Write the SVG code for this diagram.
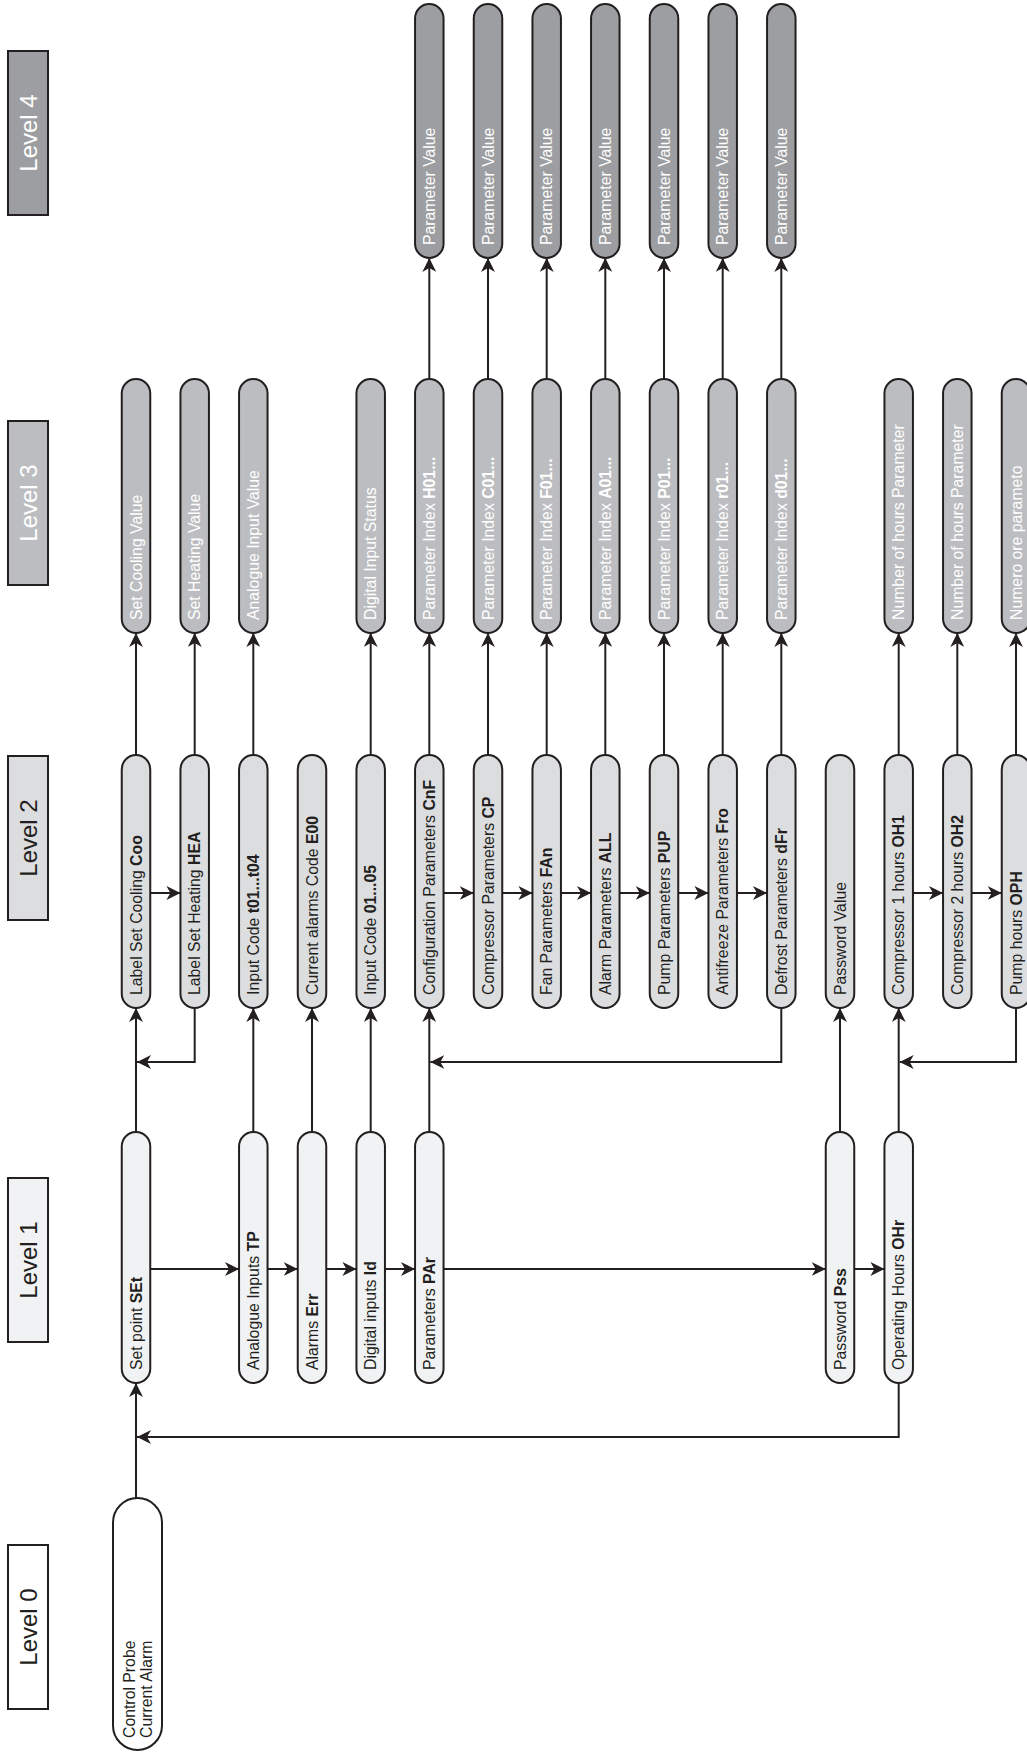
<svg xmlns="http://www.w3.org/2000/svg" width="1027" height="1753" viewBox="0 0 1027 1753">
<defs>
<marker id="ah" viewBox="0 0 14 14" refX="14" refY="7" markerWidth="14" markerHeight="14" orient="auto" markerUnits="userSpaceOnUse">
<path d="M0,0 L14,7 L0,14 L4,7 z" fill="#231f20"/>
</marker>
<style>
.p1{fill:#f1f2f3;stroke:#231f20;stroke-width:2}
.p2{fill:#dcdddf;stroke:#231f20;stroke-width:2}
.p3{fill:#bcbdc0;stroke:#231f20;stroke-width:2}
.p4{fill:#9d9ea1;stroke:#231f20;stroke-width:2}
.t{font-family:"Liberation Sans",Arial,sans-serif;font-size:15.8px;fill:#231f20}
.tw{font-family:"Liberation Sans",Arial,sans-serif;font-size:15.8px;fill:#ffffff}
.b{font-weight:bold}
.lv{font-family:"Liberation Sans",Arial,sans-serif;font-size:24px;text-anchor:middle}
.c{fill:none;stroke:#231f20;stroke-width:2}
.a{marker-end:url(#ah)}
</style>
</defs>

<g id="levels">
<g id="level0"><rect x="8" y="1545" width="40" height="164" fill="#ffffff" stroke="#231f20" stroke-width="2"/><text class="lv" fill="#231f20" transform="translate(36.6,1627) rotate(-90)">Level 0</text></g>
<g id="level1"><rect x="8" y="1178" width="40" height="164" fill="#f1f2f3" stroke="#231f20" stroke-width="2"/><text class="lv" fill="#231f20" transform="translate(36.6,1260) rotate(-90)">Level 1</text></g>
<g id="level2"><rect x="8" y="756" width="40" height="164" fill="#dcdddf" stroke="#231f20" stroke-width="2"/><text class="lv" fill="#231f20" transform="translate(36.6,838) rotate(-90)">Level 2</text></g>
<g id="level3"><rect x="8" y="421" width="40" height="164" fill="#bcbdc0" stroke="#231f20" stroke-width="2"/><text class="lv" fill="#ffffff" transform="translate(36.6,503) rotate(-90)">Level 3</text></g>
<g id="level4"><rect x="8" y="51" width="40" height="164" fill="#9d9ea1" stroke="#231f20" stroke-width="2"/><text class="lv" fill="#ffffff" transform="translate(36.6,133) rotate(-90)">Level 4</text></g>
</g>

<g id="connectors">
<path class="c a" d="M136,1498 V1383"/>
<path class="c a" d="M898.7,1383 V1437 H137"/>
<path class="c a" d="M150.3,1269 H239"/>
<path class="c a" d="M267.6,1269 H297.7"/>
<path class="c a" d="M326.3,1269 H356.4"/>
<path class="c a" d="M385,1269 H415"/>
<path class="c a" d="M443.6,1269 H825.7"/>
<path class="c a" d="M854.3,1269 H884.4"/>
<path class="c a" d="M136,1132 V1008"/>
<path class="c a" d="M253.3,1132 V1008"/>
<path class="c a" d="M312,1132 V1008"/>
<path class="c a" d="M370.7,1132 V1008"/>
<path class="c a" d="M429.3,1132 V1008"/>
<path class="c a" d="M840,1132 V1008"/>
<path class="c a" d="M898.7,1132 V1008"/>
<path class="c a" d="M150.3,893 H180.4"/>
<path class="c a" d="M443.6,893 H473.7"/>
<path class="c a" d="M502.3,893 H532.4"/>
<path class="c a" d="M561,893 H591"/>
<path class="c a" d="M619.6,893 H649.7"/>
<path class="c a" d="M678.3,893 H708.4"/>
<path class="c a" d="M737,893 H767"/>
<path class="c a" d="M913,893 H943"/>
<path class="c a" d="M971.6,893 H1001.7"/>
<path class="c a" d="M194.7,1008 V1062 H137"/>
<path class="c a" d="M781.3,1008 V1062 H430.3"/>
<path class="c a" d="M1016,1008 V1062 H899.7"/>
<path class="c a" d="M136,755 V633"/>
<path class="c a" d="M194.7,755 V633"/>
<path class="c a" d="M253.3,755 V633"/>
<path class="c a" d="M370.7,755 V633"/>
<path class="c a" d="M429.3,755 V633"/>
<path class="c a" d="M488,755 V633"/>
<path class="c a" d="M546.7,755 V633"/>
<path class="c a" d="M605.3,755 V633"/>
<path class="c a" d="M664,755 V633"/>
<path class="c a" d="M722.7,755 V633"/>
<path class="c a" d="M781.3,755 V633"/>
<path class="c a" d="M898.7,755 V633"/>
<path class="c a" d="M957.3,755 V633"/>
<path class="c a" d="M1016,755 V633"/>
<path class="c a" d="M429.3,379 V258"/>
<path class="c a" d="M488,379 V258"/>
<path class="c a" d="M546.7,379 V258"/>
<path class="c a" d="M605.3,379 V258"/>
<path class="c a" d="M664,379 V258"/>
<path class="c a" d="M722.7,379 V258"/>
<path class="c a" d="M781.3,379 V258"/>
</g>

<g id="n-control"><rect x="113" y="1498" width="49" height="252" rx="24.5" fill="#ffffff" stroke="#231f20" stroke-width="2"/><text class="t" transform="translate(135,1738) rotate(-90)">Control Probe</text><text class="t" transform="translate(152,1738) rotate(-90)">Current Alarm</text></g>

<g id="n-set"><rect class="p1" x="121.75" y="1132" width="28.5" height="251" rx="14.25"/><text class="t" transform="translate(141.6,1370) rotate(-90)">Set point <tspan class="b">SEt</tspan></text></g>
<g id="n-tp"><rect class="p1" x="239.05" y="1132" width="28.5" height="251" rx="14.25"/><text class="t" transform="translate(258.9,1370) rotate(-90)">Analogue Inputs <tspan class="b">TP</tspan></text></g>
<g id="n-err"><rect class="p1" x="297.75" y="1132" width="28.5" height="251" rx="14.25"/><text class="t" transform="translate(317.6,1370) rotate(-90)">Alarms <tspan class="b">Err</tspan></text></g>
<g id="n-id"><rect class="p1" x="356.45" y="1132" width="28.5" height="251" rx="14.25"/><text class="t" transform="translate(376.3,1370) rotate(-90)">Digital inputs <tspan class="b">Id</tspan></text></g>
<g id="n-par"><rect class="p1" x="415.05" y="1132" width="28.5" height="251" rx="14.25"/><text class="t" transform="translate(434.9,1370) rotate(-90)">Parameters <tspan class="b">PAr</tspan></text></g>
<g id="n-pss"><rect class="p1" x="825.75" y="1132" width="28.5" height="251" rx="14.25"/><text class="t" transform="translate(845.6,1370) rotate(-90)">Password <tspan class="b">Pss</tspan></text></g>
<g id="n-ohr"><rect class="p1" x="884.45" y="1132" width="28.5" height="251" rx="14.25"/><text class="t" transform="translate(904.3,1370) rotate(-90)">Operating Hours <tspan class="b">OHr</tspan></text></g>

<g id="n-coo"><rect class="p2" x="121.75" y="755" width="28.5" height="253" rx="14.25"/><text class="t" transform="translate(141.6,995) rotate(-90)">Label Set Cooling <tspan class="b">Coo</tspan></text></g>
<g id="n-hea"><rect class="p2" x="180.45" y="755" width="28.5" height="253" rx="14.25"/><text class="t" transform="translate(200.3,995) rotate(-90)">Label Set Heating <tspan class="b">HEA</tspan></text></g>
<g id="n-t01"><rect class="p2" x="239.05" y="755" width="28.5" height="253" rx="14.25"/><text class="t" transform="translate(258.9,995) rotate(-90)">Input Code <tspan class="b">t01...t04</tspan></text></g>
<g id="n-e00"><rect class="p2" x="297.75" y="755" width="28.5" height="253" rx="14.25"/><text class="t" transform="translate(317.6,995) rotate(-90)">Current alarms Code <tspan class="b">E00</tspan></text></g>
<g id="n-i01"><rect class="p2" x="356.45" y="755" width="28.5" height="253" rx="14.25"/><text class="t" transform="translate(376.3,995) rotate(-90)">Input Code <tspan class="b">01...05</tspan></text></g>
<g id="n-cnf"><rect class="p2" x="415.05" y="755" width="28.5" height="253" rx="14.25"/><text class="t" transform="translate(434.9,995) rotate(-90)">Configuration Parameters <tspan class="b">CnF</tspan></text></g>
<g id="n-cp"><rect class="p2" x="473.75" y="755" width="28.5" height="253" rx="14.25"/><text class="t" transform="translate(493.6,995) rotate(-90)">Compressor Parameters <tspan class="b">CP</tspan></text></g>
<g id="n-fan"><rect class="p2" x="532.45" y="755" width="28.5" height="253" rx="14.25"/><text class="t" transform="translate(552.3,995) rotate(-90)">Fan Parameters <tspan class="b">FAn</tspan></text></g>
<g id="n-all"><rect class="p2" x="591.05" y="755" width="28.5" height="253" rx="14.25"/><text class="t" transform="translate(610.9,995) rotate(-90)">Alarm Parameters <tspan class="b">ALL</tspan></text></g>
<g id="n-pup"><rect class="p2" x="649.75" y="755" width="28.5" height="253" rx="14.25"/><text class="t" transform="translate(669.6,995) rotate(-90)">Pump Parameters <tspan class="b">PUP</tspan></text></g>
<g id="n-fro"><rect class="p2" x="708.45" y="755" width="28.5" height="253" rx="14.25"/><text class="t" transform="translate(728.3,995) rotate(-90)">Antifreeze Parameters <tspan class="b">Fro</tspan></text></g>
<g id="n-dfr"><rect class="p2" x="767.05" y="755" width="28.5" height="253" rx="14.25"/><text class="t" transform="translate(786.9,995) rotate(-90)">Defrost Parameters <tspan class="b">dFr</tspan></text></g>
<g id="n-pwv"><rect class="p2" x="825.75" y="755" width="28.5" height="253" rx="14.25"/><text class="t" transform="translate(845.6,995) rotate(-90)">Password Value</text></g>
<g id="n-oh1"><rect class="p2" x="884.45" y="755" width="28.5" height="253" rx="14.25"/><text class="t" transform="translate(904.3,995) rotate(-90)">Compressor 1 hours <tspan class="b">OH1</tspan></text></g>
<g id="n-oh2"><rect class="p2" x="943.05" y="755" width="28.5" height="253" rx="14.25"/><text class="t" transform="translate(962.9,995) rotate(-90)">Compressor 2 hours <tspan class="b">OH2</tspan></text></g>
<g id="n-oph"><rect class="p2" x="1001.75" y="755" width="28.5" height="253" rx="14.25"/><text class="t" transform="translate(1021.6,995) rotate(-90)">Pump hours <tspan class="b">OPH</tspan></text></g>

<g id="n-scv"><rect class="p3" x="121.75" y="379" width="28.5" height="254" rx="14.25"/><text class="tw" transform="translate(141.6,620) rotate(-90)">Set Cooling Value</text></g>
<g id="n-shv"><rect class="p3" x="180.45" y="379" width="28.5" height="254" rx="14.25"/><text class="tw" transform="translate(200.3,620) rotate(-90)">Set Heating Value</text></g>
<g id="n-aiv"><rect class="p3" x="239.05" y="379" width="28.5" height="254" rx="14.25"/><text class="tw" transform="translate(258.9,620) rotate(-90)">Analogue Input Value</text></g>
<g id="n-dis"><rect class="p3" x="356.45" y="379" width="28.5" height="254" rx="14.25"/><text class="tw" transform="translate(376.3,620) rotate(-90)">Digital Input Status</text></g>
<g id="n-h01"><rect class="p3" x="415.05" y="379" width="28.5" height="254" rx="14.25"/><text class="tw" transform="translate(434.9,620) rotate(-90)">Parameter Index <tspan class="b">H01...</tspan></text></g>
<g id="n-c01"><rect class="p3" x="473.75" y="379" width="28.5" height="254" rx="14.25"/><text class="tw" transform="translate(493.6,620) rotate(-90)">Parameter Index <tspan class="b">C01...</tspan></text></g>
<g id="n-f01"><rect class="p3" x="532.45" y="379" width="28.5" height="254" rx="14.25"/><text class="tw" transform="translate(552.3,620) rotate(-90)">Parameter Index <tspan class="b">F01...</tspan></text></g>
<g id="n-a01"><rect class="p3" x="591.05" y="379" width="28.5" height="254" rx="14.25"/><text class="tw" transform="translate(610.9,620) rotate(-90)">Parameter Index <tspan class="b">A01...</tspan></text></g>
<g id="n-p01"><rect class="p3" x="649.75" y="379" width="28.5" height="254" rx="14.25"/><text class="tw" transform="translate(669.6,620) rotate(-90)">Parameter Index <tspan class="b">P01...</tspan></text></g>
<g id="n-r01"><rect class="p3" x="708.45" y="379" width="28.5" height="254" rx="14.25"/><text class="tw" transform="translate(728.3,620) rotate(-90)">Parameter Index <tspan class="b">r01...</tspan></text></g>
<g id="n-d01"><rect class="p3" x="767.05" y="379" width="28.5" height="254" rx="14.25"/><text class="tw" transform="translate(786.9,620) rotate(-90)">Parameter Index <tspan class="b">d01...</tspan></text></g>
<g id="n-nh1"><rect class="p3" x="884.45" y="379" width="28.5" height="254" rx="14.25"/><text class="tw" transform="translate(904.3,620) rotate(-90)">Number of hours Parameter</text></g>
<g id="n-nh2"><rect class="p3" x="943.05" y="379" width="28.5" height="254" rx="14.25"/><text class="tw" transform="translate(962.9,620) rotate(-90)">Number of hours Parameter</text></g>
<g id="n-nop"><rect class="p3" x="1001.75" y="379" width="28.5" height="254" rx="14.25"/><text class="tw" transform="translate(1021.6,620) rotate(-90)">Numero ore parameto</text></g>

<g id="n-pv1"><rect class="p4" x="415.05" y="4" width="28.5" height="254" rx="14.25"/><text class="tw" transform="translate(434.9,245) rotate(-90)">Parameter Value</text></g>
<g id="n-pv2"><rect class="p4" x="473.75" y="4" width="28.5" height="254" rx="14.25"/><text class="tw" transform="translate(493.6,245) rotate(-90)">Parameter Value</text></g>
<g id="n-pv3"><rect class="p4" x="532.45" y="4" width="28.5" height="254" rx="14.25"/><text class="tw" transform="translate(552.3,245) rotate(-90)">Parameter Value</text></g>
<g id="n-pv4"><rect class="p4" x="591.05" y="4" width="28.5" height="254" rx="14.25"/><text class="tw" transform="translate(610.9,245) rotate(-90)">Parameter Value</text></g>
<g id="n-pv5"><rect class="p4" x="649.75" y="4" width="28.5" height="254" rx="14.25"/><text class="tw" transform="translate(669.6,245) rotate(-90)">Parameter Value</text></g>
<g id="n-pv6"><rect class="p4" x="708.45" y="4" width="28.5" height="254" rx="14.25"/><text class="tw" transform="translate(728.3,245) rotate(-90)">Parameter Value</text></g>
<g id="n-pv7"><rect class="p4" x="767.05" y="4" width="28.5" height="254" rx="14.25"/><text class="tw" transform="translate(786.9,245) rotate(-90)">Parameter Value</text></g>
</svg>
